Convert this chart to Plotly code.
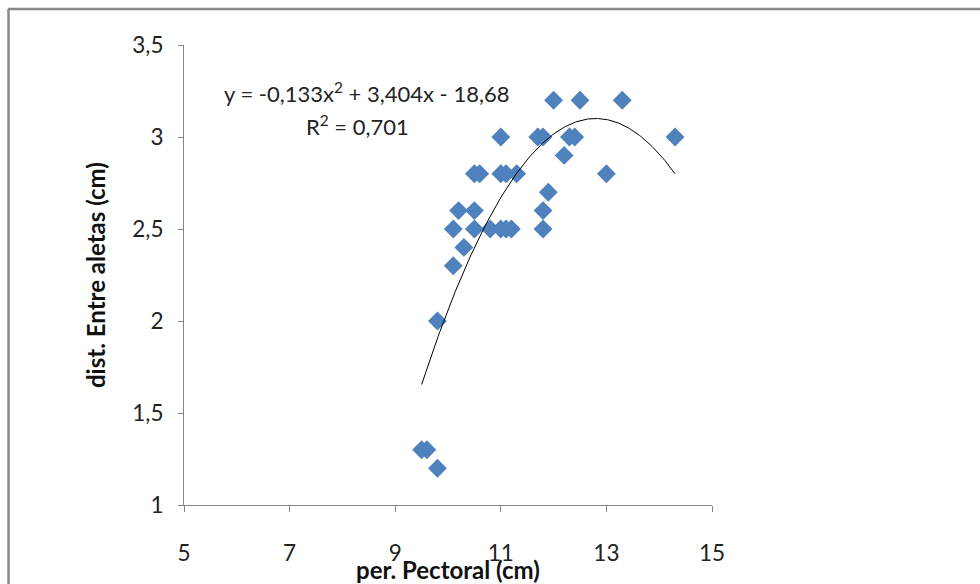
import numpy as np
import plotly.graph_objects as go

# Data
per_pectoral = [9.5, 9.6, 9.8, 9.8, 10.1, 10.1, 10.2, 10.3, 10.5, 10.5, 10.5, 10.6,
                10.8, 11.0, 11.1, 11.2, 11.8, 11.8, 11.9, 11.0, 11.1, 11.3, 11.0,
                11.7, 11.8, 12.0, 12.5, 13.3, 12.3, 12.4, 14.3, 12.2, 13.0]
dist_aletas = [1.3, 1.3, 1.2, 2.0, 2.3, 2.5, 2.6, 2.4, 2.6, 2.5, 2.8, 2.8,
               2.5, 2.5, 2.5, 2.5, 2.5, 2.6, 2.7, 2.8, 2.8, 2.8, 3.0,
               3.0, 3.0, 3.2, 3.2, 3.2, 3.0, 3.0, 3.0, 2.9, 2.8]

# Polynomial trendline coefficients (as printed on the chart)
coef_a, coef_b, coef_c = -0.133, 3.404, -18.68
eq_text = "y = -0,133x<sup>2</sup> + 3,404x - 18,68"
r2_text = "R<sup>2</sup> = 0,701"

x_ticks = [5, 7, 9, 11, 13, 15]
y_ticks = [1, 1.5, 2, 2.5, 3, 3.5]

xt = np.linspace(min(per_pectoral), max(per_pectoral), 200)
yt = coef_a * xt**2 + coef_b * xt + coef_c

FONT = "Lato, Open Sans, sans-serif"
AXC = "#868686"

fig = go.Figure()
fig.add_trace(go.Scatter(
    x=per_pectoral, y=dist_aletas, mode="markers",
    marker=dict(symbol="diamond", size=14.5, color="#4F81BD", line=dict(width=0)),
    showlegend=False, hoverinfo="x+y"))
fig.add_trace(go.Scatter(
    x=xt, y=yt, mode="lines", line=dict(color="black", width=1),
    showlegend=False, hoverinfo="skip"))

fig.update_layout(
    width=980, height=584,
    margin=dict(l=184, r=268, t=45, b=79),
    paper_bgcolor="white", plot_bgcolor="white",
    separators=", ",
    font=dict(family=FONT, size=22, color="#1a1a1a"),
    xaxis=dict(range=[5, 15], tickvals=x_ticks, showgrid=False, zeroline=False,
               showline=True, linecolor=AXC, linewidth=1,
               ticks="outside", ticklen=6, tickcolor=AXC,
               ticklabelstandoff=22,
               tickfont=dict(size=22.5, family=FONT, color="#222")),
    yaxis=dict(range=[1, 3.5], tickvals=y_ticks, showgrid=False, zeroline=False,
               showline=True, linecolor=AXC, linewidth=1,
               ticks="outside", ticklen=5, tickcolor=AXC,
               ticklabelstandoff=10,
               tickfont=dict(size=22.5, family=FONT, color="#222")),
    annotations=[
        dict(text=eq_text, xref="x", yref="y", x=8.45, y=3.24, showarrow=False,
             font=dict(size=22, family=FONT, color="#222"), xanchor="center"),
        dict(text=r2_text, xref="x", yref="y", x=8.28, y=3.065, showarrow=False,
             font=dict(size=22, family=FONT, color="#222"), xanchor="center"),
        dict(text="<b>per. Pectoral (cm)</b>", xref="paper", yref="paper",
             x=0.5, y=(505 - 569) / 460, showarrow=False, yanchor="middle",
             font=dict(size=24, family=FONT, color="#111")),
        dict(text="<b>dist. Entre aletas (cm)</b>", xref="paper", yref="paper",
             x=(95 - 184) / 528, y=0.5, showarrow=False, textangle=-90,
             xanchor="center", yanchor="middle",
             font=dict(size=24, family=FONT, color="#111")),
    ],
    shapes=[
        dict(type="line", xref="paper", yref="paper",
             x0=(8 - 184) / 528, x1=(1000 - 184) / 528,
             y0=(505 - 9) / 460, y1=(505 - 9) / 460,
             line=dict(color="#888888", width=2.5)),
        dict(type="line", xref="paper", yref="paper",
             x0=(8.5 - 184) / 528, x1=(8.5 - 184) / 528,
             y0=(505 - 9) / 460, y1=(505 - 620) / 460,
             line=dict(color="#888888", width=2.5)),
    ],
)

fig.write_html("out.html")
